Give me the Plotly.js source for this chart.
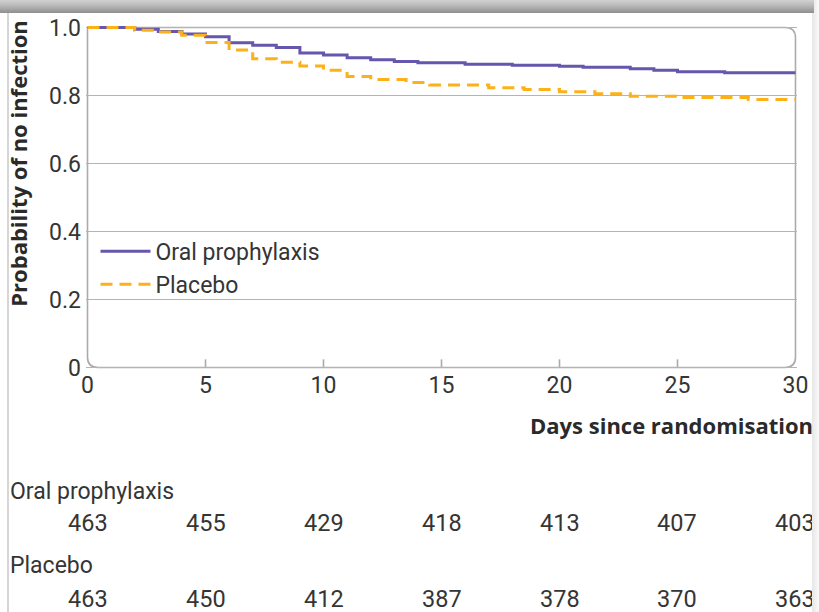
<!DOCTYPE html>
<html>
<head>
<meta charset="utf-8">
<script src="https://cdn.plot.ly/plotly-3.0.1.min.js"></script>
<style>
  html, body { margin: 0; padding: 0; background: #ffffff; }
  #wrap { position: relative; width: 819px; height: 612px; overflow: hidden; background: #fff; }
  #chart { position: absolute; left: 0; top: 0; width: 819px; height: 612px; }
  #topband { position: absolute; left: 0; top: 0; width: 814px; height: 13px;
    background: linear-gradient(to bottom, #d2d2d2 0%, #b4b4b4 50%, #8e8e8e 100%); pointer-events: none; }
  #rightshade { position: absolute; left: 812px; top: 0; width: 7px; height: 612px;
    background: linear-gradient(to right, #e6e6e6, #fafafa); pointer-events: none; }
  #leftline { position: absolute; left: 7px; top: 13px; width: 2px; height: 599px; background: #d6d6d6; pointer-events: none; }
</style>
</head>
<body>
<div id="wrap">
  <div id="chart"></div>
  <div id="leftline"></div>
  <div id="rightshade"></div>
  <div id="topband"></div>
</div>
<script>
// ---- Data ----
var seriesNames = ["Oral prophylaxis", "Placebo"];

var daysOral = [0, 2, 3, 4, 5, 6, 7, 8, 9, 10, 11, 12, 13, 14, 16, 18, 20, 21, 23, 24, 25, 27, 30];
var survOral = [1.0, 0.995, 0.988, 0.981, 0.973, 0.955, 0.948, 0.941, 0.925, 0.919, 0.911, 0.905, 0.900, 0.896, 0.892, 0.889, 0.886, 0.883, 0.879, 0.874, 0.870, 0.867, 0.867];

var daysPlacebo = [0, 2, 3, 4, 5, 6, 7, 8, 9, 10, 11, 12, 13.5, 14.5, 17, 18.5, 20, 21.5, 23, 25, 28, 30];
var survPlacebo = [1.0, 0.992, 0.987, 0.977, 0.956, 0.934, 0.908, 0.898, 0.887, 0.874, 0.856, 0.847, 0.838, 0.831, 0.823, 0.818, 0.811, 0.805, 0.798, 0.794, 0.788, 0.788];

var riskDays = [0, 5, 10, 15, 20, 25, 30];
var riskOral = [463, 455, 429, 418, 413, 407, 403];
var riskPlacebo = [463, 450, 412, 387, 378, 370, 363];

var xTickVals = [0, 5, 10, 15, 20, 25, 30];
var xTickText = ["0", "5", "10", "15", "20", "25", "30"];
var yTickVals = [0, 0.2, 0.4, 0.6, 0.8, 1.0];
var yTickText = ["0", "0.2", "0.4", "0.6", "0.8", "1.0"];

var xTitle = "Days since randomisation";
var yTitle = "Probability of no infection";

// ---- Styling ----
var FONT = "Roboto, 'Open Sans', sans-serif";
var BOLDFONT = "'Open Sans', Roboto, sans-serif";
var TXT = "#353535";
var GRID = "#b4b4b4";
var PURPLE = "#6656ad";
var ORANGE = "#fbb117";

// plot-area geometry in pixels (for paper conversion)
var L = 85.5, R = 797.5, T = 25.5, B = 369.5;
function px2x(X) { return (X - L) / (R - L); }
function px2y(Y) { return (B - Y) / (B - T); }

var traces = [
  { x: daysOral, y: survOral, name: seriesNames[0], type: "scatter", mode: "lines",
    line: { shape: "hv", color: PURPLE, width: 3 } },
  { x: daysPlacebo, y: survPlacebo, name: seriesNames[1], type: "scatter", mode: "lines",
    line: { shape: "hv", color: ORANGE, width: 3, dash: "12px,7px" } }
];

var annotations = [];
annotations.push({ text: "<b>" + yTitle + "</b>", xref: "paper", yref: "paper",
  x: px2x(18), y: px2y(164), textangle: -90, showarrow: false,
  xanchor: "center", yanchor: "middle", font: { family: BOLDFONT, size: 22, color: "#2a2a2a" } });
annotations.push({ text: "<b>" + xTitle + "</b>", xref: "paper", yref: "paper",
  x: px2x(816), y: px2y(426), showarrow: false, xanchor: "right", yanchor: "middle",
  font: { family: BOLDFONT, size: 22, color: "#2a2a2a" } });
annotations.push({ text: seriesNames[0], xref: "paper", yref: "paper",
  x: px2x(7), y: px2y(492), showarrow: false, xanchor: "left", yanchor: "middle",
  font: { family: FONT, size: 23, color: TXT } });
annotations.push({ text: seriesNames[1], xref: "paper", yref: "paper",
  x: px2x(7), y: px2y(567), showarrow: false, xanchor: "left", yanchor: "middle",
  font: { family: FONT, size: 23, color: TXT } });
for (var i = 0; i < riskDays.length; i++) {
  annotations.push({ text: String(riskOral[i]), xref: "x", yref: "paper",
    x: riskDays[i], y: px2y(524), showarrow: false, xanchor: "center", yanchor: "middle",
    font: { family: FONT, size: 23.5, color: TXT } });
  annotations.push({ text: String(riskPlacebo[i]), xref: "x", yref: "paper",
    x: riskDays[i], y: px2y(600), showarrow: false, xanchor: "center", yanchor: "middle",
    font: { family: FONT, size: 23.5, color: TXT } });
}

// rounded plot frame (data coords)
var rx = 0.45, ry = 0.03;
var framePath = "M 0,1 L 0," + ry + " Q 0,0 " + rx + ",0 L " + (30 - rx) + ",0 Q 30,0 30," + ry +
  " L 30," + (1 - ry) + " Q 30,1 " + (30 - rx) + ",1 L 0,1";

var layout = {
  width: 819, height: 612,
  margin: { l: L, r: 819 - R, t: T, b: 612 - B, pad: 0 },
  paper_bgcolor: "#ffffff", plot_bgcolor: "#ffffff",
  showlegend: true,
  legend: { x: px2x(95), y: px2y(230), xanchor: "left", yanchor: "top",
    bgcolor: "rgba(0,0,0,0)", borderwidth: 0, itemwidth: 50,
    font: { family: FONT, size: 23, color: TXT }, tracegroupgap: 0 },
  xaxis: { range: [-0.064, 30.064], tickvals: xTickVals, ticktext: xTickText,
    showgrid: false, zeroline: false, showline: false,
    ticks: "", tickfont: { family: FONT, size: 23, color: TXT }, fixedrange: true },
  yaxis: { range: [-0.0044, 1.0044], tickvals: yTickVals, ticktext: yTickText,
    showgrid: true, gridcolor: GRID, gridwidth: 1.5, zeroline: false, showline: false,
    ticks: "", ticklabelstandoff: 4, tickfont: { family: FONT, size: 23, color: TXT }, fixedrange: true },
  shapes: [
    { type: "path", xref: "x", yref: "y", path: framePath, layer: "below",
      line: { color: "#ababab", width: 1.6 } }
  ].concat([5, 10, 15, 20, 25].map(function (d) {
    return { type: "line", xref: "x", yref: "y", x0: d, x1: d, y0: 0, y1: 0.024,
      layer: "below", line: { color: "#ababab", width: 1.6 } };
  })),
  annotations: annotations
};

Plotly.newPlot("chart", traces, layout, { displayModeBar: false, staticPlot: true });
</script>
</body>
</html>
